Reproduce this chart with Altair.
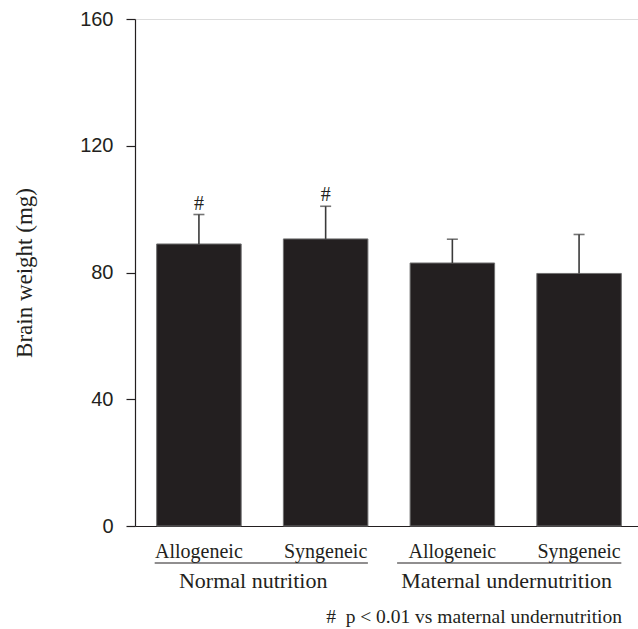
import altair as alt
import pandas as pd

# ---- data ----
groups = ["Normal nutrition", "Normal nutrition", "Maternal undernutrition", "Maternal undernutrition"]
treatments = ["Allogeneic", "Syngeneic", "Allogeneic", "Syngeneic"]
means = [89.0, 90.6, 83.0, 79.7]
upper = [98.3, 100.9, 90.5, 92.0]
marks = ["#", "#", "", ""]

group_names = ["Normal nutrition", "Maternal undernutrition"]
group_first = ["Normal nutrition|Allogeneic", "Maternal undernutrition|Allogeneic"]
group_last = ["Normal nutrition|Syngeneic", "Maternal undernutrition|Syngeneic"]
footnote = "#\u00a0\u00a0p < 0.01 vs maternal undernutrition"
y_ticks = [0, 40, 80, 120, 160]

keys = [g + "|" + t for g, t in zip(groups, treatments)]
df = pd.DataFrame({"key": keys, "mean": means, "upper": upper, "mark": marks})
gdf = pd.DataFrame({"name": group_names, "first": group_first, "last": group_last})

INK = "#231f20"
SERIF = "Liberation Serif"
SANS = "Liberation Sans"

xscale = alt.Scale(domain=keys, range=[0, 508], paddingInner=0.333, paddingOuter=0.171)
yscale = alt.Scale(domain=[0, 160], nice=False)

x = alt.X(
    "key:N", scale=xscale, sort=keys, title=None,
    axis=alt.Axis(
        labelExpr="split(datum.label, '|')[1]", labelAngle=0, ticks=False, tickSize=0,
        labelPadding=15, labelFont=SERIF, labelFontSize=20, labelColor=INK,
        domainColor=INK, domainWidth=1.2, labelBaseline="top",
    ),
)
y = alt.Y(
    "mean:Q", scale=yscale, title="Brain weight (mg)",
    axis=alt.Axis(
        values=y_ticks, grid=False, tickSize=9, tickColor=INK, tickWidth=1.2,
        domainColor=INK, domainWidth=1.2, labelFont=SANS, labelFontSize=20,
        labelColor=INK, labelPadding=13, titleFont=SERIF, titleFontSize=23,
        titleFontWeight="normal", titleColor=INK, titleAngle=270, titleX=-111,
        titleY=253.5, titleAlign="center", titleBaseline="middle",
    ),
)

base = alt.Chart(df)
bars = base.mark_bar(color=INK, stroke="#6f6f6f", strokeWidth=1).encode(x=x, y=y)
err = base.mark_rule(color="#3a3a3a", strokeWidth=1.6).encode(
    x=alt.X("key:N", scale=xscale, sort=keys),
    y=alt.Y("mean:Q", scale=yscale),
    y2="upper:Q",
)
caps = base.mark_tick(color="#3a3a3a", size=11, thickness=1.6, orient="horizontal").encode(
    x=alt.X("key:N", scale=xscale, sort=keys),
    y=alt.Y("upper:Q", scale=yscale),
)
hashes = base.mark_text(font=SERIF, fontSize=20, color=INK, baseline="bottom", dy=-1).encode(
    x=alt.X("key:N", scale=xscale, sort=keys),
    y=alt.Y("upper:Q", scale=yscale),
    text="mark:N",
)

gbase = alt.Chart(gdf)
line1 = gbase.transform_filter(alt.datum.name == group_names[0]).mark_rule(
    color=INK, strokeWidth=1.2, xOffset=-2
).encode(
    x=alt.X("first:N", scale=xscale, bandPosition=0),
    x2=alt.X2("last:N", bandPosition=1),
    y=alt.value(544),
)
line2 = gbase.transform_filter(alt.datum.name == group_names[1]).mark_rule(
    color=INK, strokeWidth=1.2, xOffset=-13
).encode(
    x=alt.X("first:N", scale=xscale, bandPosition=0),
    x2=alt.X2("last:N", bandPosition=1),
    y=alt.value(544),
)
glabels = gbase.mark_text(font=SERIF, fontSize=22, color=INK, baseline="middle", align="center", dx=12).encode(
    x=alt.X("first:N", scale=xscale, bandPosition=1),
    y=alt.value(562),
    text="name:N",
)
note = alt.Chart(pd.DataFrame({"t": [footnote]})).mark_text(
    font=SERIF, fontSize=19.5, color=INK, baseline="middle", align="right"
).encode(x=alt.value(487), y=alt.value(598), text="t:N")

chart = alt.layer(bars, err, caps, hashes, line1, line2, glabels, note).properties(
    width=503, height=507,
    autosize=alt.AutoSizeParams(type="none"),
    padding={"left": 135, "top": 19, "right": 0, "bottom": 103},
).configure_view(stroke=None).configure(background="white")

chart.save("out.html", embed_options={"renderer": "svg", "actions": False})
